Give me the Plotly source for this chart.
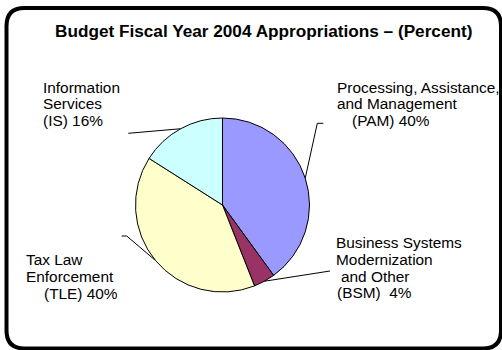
import math
import plotly.graph_objects as go

# Budget FY2004 appropriations by program area (percent)
programs = ["PAM", "BSM", "TLE", "IS"]
percents = [40, 4, 40, 16]

# Multi-line label text for each program
label_lines = {
    "PAM": ["Processing, Assistance,", "and Management", "(PAM) 40%"],
    "BSM": ["Business Systems", "Modernization", "and Other", "(BSM)\u00a0 4%"],
    "TLE": ["Tax Law", "Enforcement", "(TLE) 40%"],
    "IS": ["Information", "Services", "(IS) 16%"],
}

slice_colors = ["#9999FF", "#993366", "#FFFFCC", "#CCFFFF"]

W, H = 502, 350
FONT = "Arial, Liberation Sans, sans-serif"

# pie placement in pixels
cx, cy, r = 222.5, 205.0, 87.0


def px(x):
    return x / W


def py(y):
    return 1 - y / H


fig = go.Figure()
fig.add_trace(go.Pie(
    labels=programs,
    values=percents,
    sort=False,
    direction="clockwise",
    rotation=0,
    textinfo="none",
    hoverinfo="label+percent",
    showlegend=False,
    marker=dict(colors=slice_colors, line=dict(color="black", width=1)),
    domain=dict(x=[px(cx - r), px(cx + r)], y=[py(cy + r), py(cy - r)]),
))

shapes = []

# rounded frame around the whole chart
x0, y0, x1, y1, rr = 6.5, 8.0, 501.0, 348.5, 18.0
pts = [
    ("M", [(x0 + rr, y0)]),
    ("L", [(x1 - rr, y0)]),
    ("Q", [(x1, y0), (x1, y0 + rr)]),
    ("L", [(x1, y1 - rr)]),
    ("Q", [(x1, y1), (x1 - rr, y1)]),
    ("L", [(x0 + rr, y1)]),
    ("Q", [(x0, y1), (x0, y1 - rr)]),
    ("L", [(x0, y0 + rr)]),
    ("Q", [(x0, y0), (x0 + rr, y0)]),
]
path = " ".join(
    cmd + " " + " ".join(f"{px(a):.5f},{py(b):.5f}" for a, b in coords)
    for cmd, coords in pts
) + " Z"
shapes.append(dict(type="path", xref="paper", yref="paper", path=path,
                   line=dict(color="black", width=4)))

# leader lines: start on the rim at each slice's mid-angle
elbows = {
    "PAM": [(317.3, 123.3), (323.3, 123.3)],
    "BSM": [(330.0, 271.0)],
    "TLE": [(126.7, 236.0), (121.7, 236.0)],
    "IS": [(128.3, 133.3)],
}
total = sum(percents)
cum = 0.0
for name, v in zip(programs, percents):
    mid = 2 * math.pi * (cum + v / 2) / total
    cum += v
    ax, ay = cx + r * math.sin(mid), cy - r * math.cos(mid)
    line_pts = [(ax, ay)] + elbows[name]
    p = "M " + " L ".join(f"{px(a):.5f},{py(b):.5f}" for a, b in line_pts)
    shapes.append(dict(type="path", xref="paper", yref="paper", path=p,
                       line=dict(color="black", width=1)))

annotations = []
FS = 15.4


def add_line(text, x, baseline, size=FS, bold=False, anchor="left"):
    t = f"<b>{text}</b>" if bold else text
    annotations.append(dict(
        text=t, x=px(x), y=py(baseline - 0.3465 * size), xref="paper", yref="paper",
        xanchor=anchor, yanchor="middle", showarrow=False,
        font=dict(family=FONT, size=size, color="black"),
    ))


add_line("Budget Fiscal Year 2004 Appropriations \u2013 (Percent)", 263.5, 37.3,
         size=17.2, bold=True, anchor="center")

label_pos = {
    "IS": ([41, 41, 41], [92.5, 109.0, 125.5]),
    "PAM": ([335, 335, 349.5], [92.5, 109.0, 125.5]),
    "TLE": ([24, 24, 41.7], [265.0, 282.0, 299.0]),
    "BSM": ([334.3, 334.3, 339.3, 335.0], [248.3, 265.0, 281.7, 298.3]),
}
for name in programs:
    xs, bs = label_pos[name]
    for text, x, b in zip(label_lines[name], xs, bs):
        add_line(text, x, b)

fig.update_layout(
    width=W, height=H,
    margin=dict(l=0, r=0, t=0, b=0),
    paper_bgcolor="white",
    plot_bgcolor="white",
    shapes=shapes,
    annotations=annotations,
)

fig.write_html("out.html")
